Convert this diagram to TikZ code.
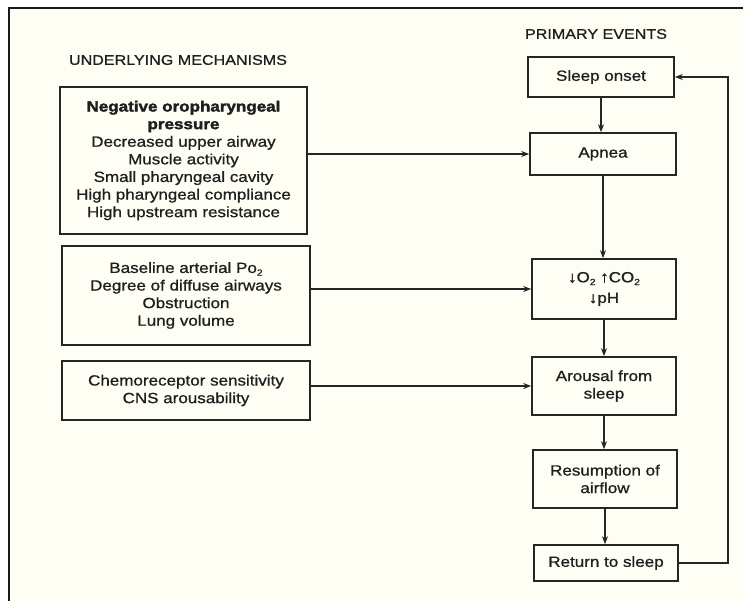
\documentclass[tikz,border=0pt]{standalone}
\usepackage{fontspec}
\setmainfont{Liberation Sans}[FakeStretch=1.15, FakeBold=0.9, BoldFeatures={FakeBold=2.2}]
\usetikzlibrary{arrows.meta}
\newcommand{\dn}{{\scalebox{1.0}[1.05]{↓}}}
\newcommand{\up}{{\scalebox{1.0}[1.05]{↑}}}
\newcommand{\sub}[1]{\raisebox{-0.35ex}{\scalebox{0.6}{#1}}}
\begin{document}
\begin{tikzpicture}[x=1pt,y=-1pt,
  bx/.style={draw=black!85, line width=1.6pt, inner sep=0pt, align=center,
     font=\fontsize{14.8}{17.6}\selectfont, text=black!88},
  hdr/.style={inner sep=0pt, font=\fontsize{14}{16}\selectfont, text=black!88},
  arr/.style={line width=1.5pt, draw=black!85, -{Stealth[length=8pt,width=6pt]}},
  ln/.style={line width=1.5pt, draw=black!85}]
\useasboundingbox (0,0) rectangle (743,601);
\fill[white] (0,0) rectangle (743,601);
\fill[black!3!yellow!4!white] (9,8) rectangle (743,601);
\draw[line width=2.2pt, black!90] (9,601) -- (9,8) -- (743,8);
% headers
\node[hdr] (hl) at (178,60) {UNDERLYING MECHANISMS};
\node[hdr] (hr) at (596,34) {PRIMARY EVENTS};
% left boxes
\node[bx, minimum width=247pt, minimum height=147pt] (m1) at (183.5,160.5)
 {\textbf{Negative oropharyngeal}\\ \textbf{pressure}\\ Decreased upper airway\\ Muscle activity\\ Small pharyngeal cavity\\ High pharyngeal compliance\\ High upstream resistance};
\node[bx, minimum width=248pt, minimum height=99pt] (m2) at (186,295.5)
 {Baseline arterial Po\sub{2}\\ Degree of diffuse airways\\ Obstruction\\ Lung volume};
\node[bx, minimum width=248pt, minimum height=59pt] (m3) at (186,390.5)
 {Chemoreceptor sensitivity\\ CNS arousability};
% right boxes
\node[bx, minimum width=146pt, minimum height=40pt] (s1) at (601,77) {Sleep onset};
\node[bx, minimum width=146pt, minimum height=42pt] (s2) at (603,154) {Apnea};
\node[bx, minimum width=144pt, minimum height=60pt] (s3) at (604,289) {\dn O\sub{2} \up CO\sub{2}\\[3pt] \dn pH};
\node[bx, minimum width=144pt, minimum height=58pt] (s4) at (604,386) {Arousal from\\ sleep};
\node[bx, minimum width=144pt, minimum height=58pt] (s5) at (605,479) {Resumption of\\ airflow};
\node[bx, minimum width=144pt, minimum height=36pt] (s6) at (606,563) {Return to sleep};
\coordinate (lp) at (728,0);
% vertical chain
\draw[arr] (s1.south) -- (s1.south |- s2.north);
\draw[arr] (s2.south) -- (s2.south |- s3.north);
\draw[arr] (s3.south) -- (s3.south |- s4.north);
\draw[arr] (s4.south) -- (s4.south |- s5.north);
\draw[arr] (s5.south) -- (s5.south |- s6.north);
% horizontal
\draw[arr] (m1.east |- s2.west) -- (s2.west);
\draw[arr] (m2.east |- s3.west) -- (s3.west);
\draw[arr] (m3.east |- s4.west) -- (s4.west);
% loop
\draw[arr] (s6.east) -- (lp |- s6.east) -- (lp |- s1.east) -- (s1.east);
\end{tikzpicture}
\end{document}
